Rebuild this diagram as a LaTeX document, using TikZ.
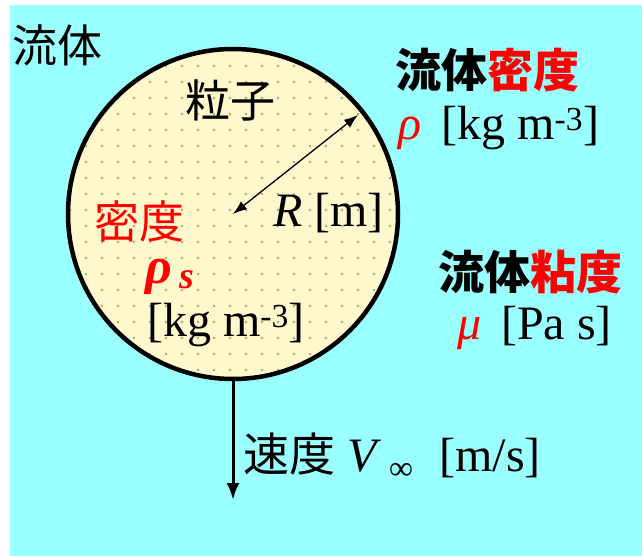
\documentclass[tikz,border=0pt]{standalone}
\usepackage{fontspec}
\setmainfont{Liberation Serif}
\newfontfamily\jp{Noto Sans CJK JP}
\usetikzlibrary{positioning,arrows.meta}
\definecolor{fluid}{HTML}{99FFFF}
\definecolor{sand}{HTML}{FFF8CC}
\definecolor{grain}{HTML}{ADA47C}

\begin{document}
\begin{tikzpicture}[x=1pt,y=-1pt,
    lb/.style={inner sep=0pt,anchor=west,font=\fontsize{48}{50}\selectfont},
    jl/.style={inner sep=0pt,font=\jp\fontsize{45}{47}\selectfont},
    jb/.style={inner sep=0pt,anchor=west,font=\jp\bfseries\fontsize{46}{48}\selectfont},
    rd/.style={text=red}]
  \useasboundingbox (0,0) rectangle (642,556);
  \fill[fluid] (10,5) rectangle (642,556);
  % particle
  \coordinate (ctr) at (233,214);
  \fill[sand] (ctr) circle (165);
  \begin{scope}
    \clip (ctr) circle (165);
    \foreach \i in {0,...,22} \foreach \j in {0,...,22}
      \fill[grain] (70+16*\i,50+16*\j) circle (1.4);
  \end{scope}
  \draw[line width=4.5pt] (ctr) circle (165);
  \coordinate (rim) at (358,115);
  \coordinate (bot) at (233,380);
  \coordinate (tip) at (233,500);
  \draw[line width=1.3pt,{Latex[length=14pt,width=10pt]}-{Latex[length=14pt,width=10pt]}] (ctr) -- (rim);
  \draw[line width=3pt,-{Latex[length=17pt,width=13pt]}] (bot) -- (tip);
  % labels
  \node[jl,anchor=west] (flu) at (12,45) {流体};
  \node[jl] (part) at (230,100) {粒子};
  \node[jl,rd] (dens) at (139,221) {密度};
  \node[lb,rd,anchor=base west] (rhos) at (145,283) {\textbf{\textit{\fontsize{52}{52}\selectfont ρ}\,\raisebox{-5pt}{\textit{\fontsize{38}{38}\selectfont s}}}};
  \node[lb,anchor=center] (unit) at (226,325) {[kg m\textsuperscript{-3}]};
  \node[lb] (rad) at (273,213) {\textit{R} [m]};
  \node[jb] (fden) at (395,70) {流体\textcolor{red}{密度}};
  \node[lb] (rho) at (398,128) {\textcolor{red}{\textit{ρ}}\, [kg m\textsuperscript{-3}]};
  \node[jb] (fvis) at (438,272) {流体\textcolor{red}{粘度}};
  \node[lb] (mu) at (457,328) {\textcolor{red}{\textit{μ}}\, [Pa s]};
  \node[lb] (vel) at (243,456) {{\jp\fontsize{46}{48}\selectfont 速度} \textit{V}\,\textsubscript{∞}\hspace{14pt} [m/s]};
\end{tikzpicture}
\end{document}
